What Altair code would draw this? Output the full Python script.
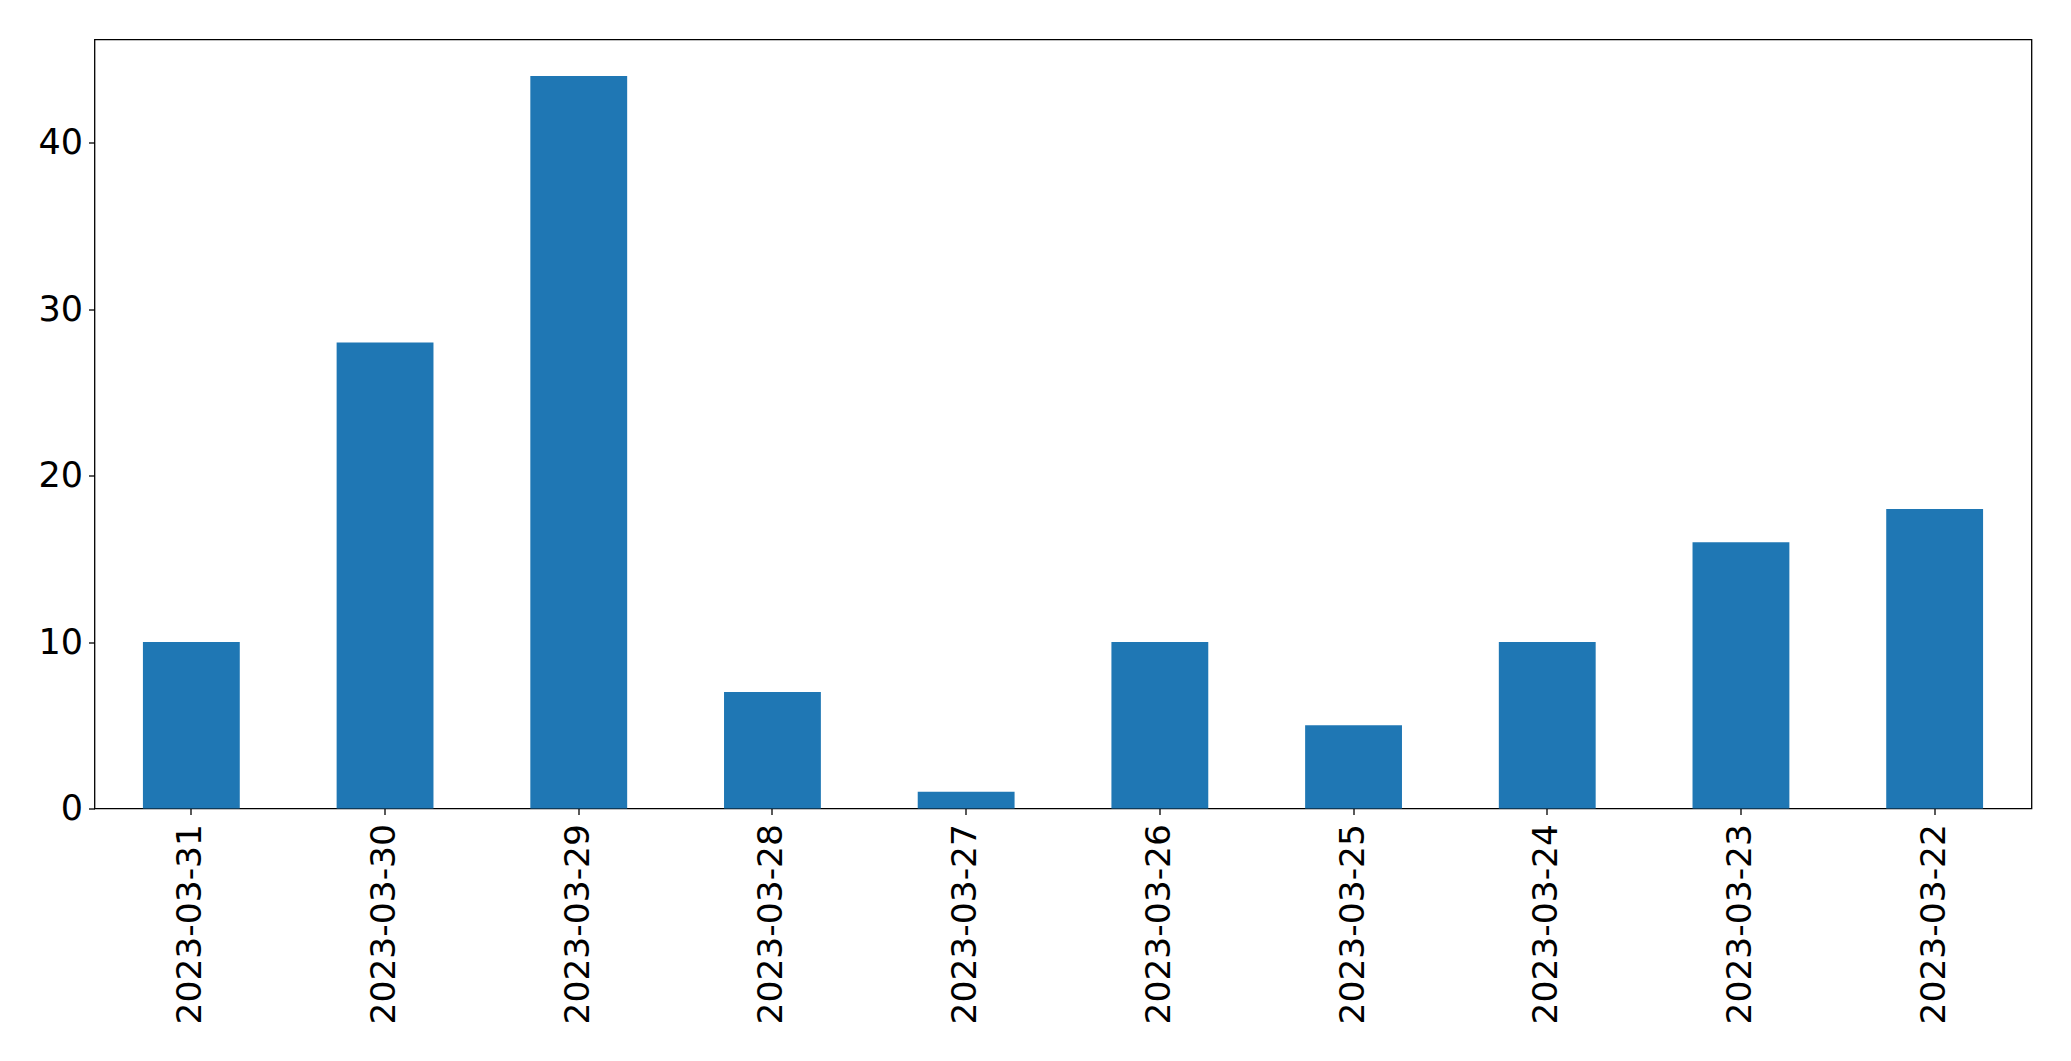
import altair as alt
import pandas as pd

dates = ["2023-03-31", "2023-03-30", "2023-03-29", "2023-03-28", "2023-03-27",
         "2023-03-26", "2023-03-25", "2023-03-24", "2023-03-23", "2023-03-22"]
counts = [10, 28, 44, 7, 1, 10, 5, 10, 16, 18]
y_ticks = [0, 10, 20, 30, 40]

df = pd.DataFrame({"date": dates, "count": counts})

chart = alt.Chart(df).mark_bar(color="#1f77b4").encode(
    x=alt.X("date:N", sort=None, title=None,
            scale=alt.Scale(paddingInner=0.5, paddingOuter=0.25),
            axis=alt.Axis(labelAngle=-90, labelFontSize=34.5, labelPadding=9,
                          labelLimit=0,
                          tickSize=6, tickColor="black", labelColor="black",
                          domain=False, labelFont="DejaVu Sans")),
    y=alt.Y("count:Q", title=None,
            scale=alt.Scale(domain=[0, 46.2], nice=False, zero=True),
            axis=alt.Axis(values=y_ticks, labelFontSize=35, labelPadding=6,
                          tickSize=6, tickColor="black", labelColor="black",
                          domain=False, grid=False, labelFont="DejaVu Sans")),
).properties(
    width=1937,
    height=769,
    autosize=alt.AutoSizeParams(type="none"),
    padding={"left": 86.5, "top": 31.5, "right": 30, "bottom": 240},
).configure_view(
    stroke="black", strokeWidth=1.3
).configure_axis(
    tickWidth=1.3
)

chart.save("out.html", embed_options={"renderer": "svg", "actions": False})
